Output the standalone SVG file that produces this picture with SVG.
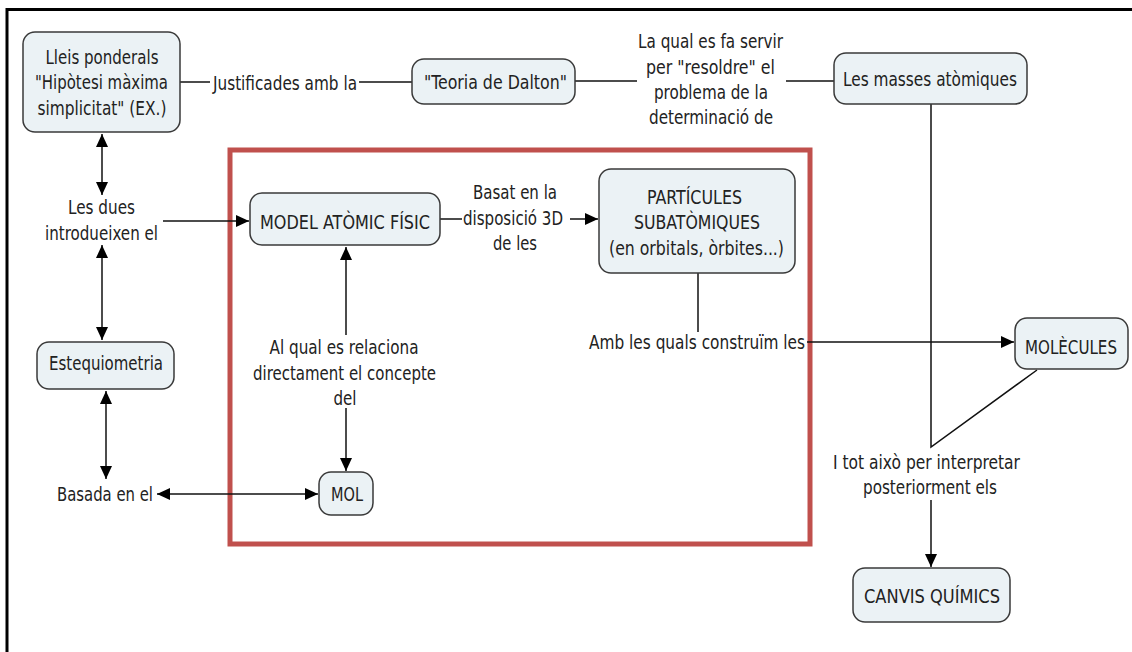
<svg xmlns="http://www.w3.org/2000/svg" width="1132" height="652" viewBox="0 0 1132 652">
  <defs>
    <marker id="arrow" markerUnits="userSpaceOnUse" markerWidth="14" markerHeight="13" refX="13" refY="6.5" orient="auto-start-reverse">
      <path d="M0,0.5 L13,6.5 L0,12.5 z" fill="#000"/>
    </marker>
    <style>
      .node rect { fill: #ebf2f5; stroke: #3a3a3a; stroke-width: 1.5; }
      text { font-family: "DejaVu Sans Condensed", "DejaVu Sans", "Liberation Sans", sans-serif; font-size: 19px; fill: #222; text-anchor: middle; }
      .link { fill: none; stroke: #111; stroke-width: 1.5; }
      .arrow { marker-end: url(#arrow); }
      .both { marker-start: url(#arrow); marker-end: url(#arrow); }
    </style>
  </defs>

  <rect width="1132" height="652" fill="#fff"/>

  <!-- page frame (top and left edges) -->
  <path d="M7,652 V9.5 H1132" fill="none" stroke="#000" stroke-width="3"/>

  <!-- highlighted region -->
  <rect x="230" y="150" width="580" height="394" fill="none" stroke="#c0504d" stroke-width="5"/>

  <!-- connectors and linking phrases -->
  <g id="connectors">
    <line class="link" x1="180" y1="82" x2="210" y2="82"/>
    <line class="link" x1="359" y1="82" x2="412" y2="82"/>
    <text x="285" y="89.5" textLength="144" lengthAdjust="spacingAndGlyphs">Justificades amb la</text>

    <line class="link" x1="575" y1="81" x2="637" y2="81"/>
    <line class="link" x1="786" y1="81" x2="834" y2="81"/>
    <text x="710.5" y="47.5" textLength="145" lengthAdjust="spacingAndGlyphs">La qual es fa servir</text>
    <text x="710.5" y="73.5" textLength="129" lengthAdjust="spacingAndGlyphs">per "resoldre" el</text>
    <text x="711" y="98.5" textLength="114" lengthAdjust="spacingAndGlyphs">problema de la</text>
    <text x="711" y="123.5" textLength="124" lengthAdjust="spacingAndGlyphs">determinació de</text>

    <line class="link both" x1="102" y1="134" x2="102" y2="195"/>
    <text x="101.5" y="213.5" textLength="67" lengthAdjust="spacingAndGlyphs">Les dues</text>
    <text x="101.5" y="239.5" textLength="113" lengthAdjust="spacingAndGlyphs">introdueixen el</text>
    <line class="link arrow" x1="163" y1="221" x2="249" y2="221"/>
    <line class="link both" x1="102" y1="245" x2="102" y2="340"/>

    <line class="link both" x1="106" y1="391" x2="106" y2="479"/>
    <text x="105" y="500.5" textLength="96" lengthAdjust="spacingAndGlyphs">Basada en el</text>
    <line class="link both" x1="157" y1="494" x2="318" y2="494"/>

    <line class="link arrow" x1="346" y1="335" x2="346" y2="247"/>
    <text x="344" y="353.5" textLength="149" lengthAdjust="spacingAndGlyphs">Al qual es relaciona</text>
    <text x="344.5" y="379.5" textLength="183" lengthAdjust="spacingAndGlyphs">directament el concepte</text>
    <text x="345" y="404.5" textLength="23" lengthAdjust="spacingAndGlyphs">del</text>
    <line class="link arrow" x1="346" y1="408" x2="346" y2="471"/>

    <line class="link" x1="440" y1="219" x2="462" y2="219"/>
    <text x="515" y="198.5" textLength="84" lengthAdjust="spacingAndGlyphs">Basat en la</text>
    <text x="513" y="224.5" textLength="100" lengthAdjust="spacingAndGlyphs">disposició 3D</text>
    <text x="515" y="249.5" textLength="44" lengthAdjust="spacingAndGlyphs">de les</text>
    <line class="link arrow" x1="570" y1="219" x2="598" y2="219"/>

    <line class="link" x1="698" y1="273" x2="698" y2="332"/>
    <text x="697" y="348.5" textLength="216" lengthAdjust="spacingAndGlyphs">Amb les quals construïm les</text>
    <line class="link arrow" x1="807" y1="342" x2="1014" y2="342"/>

    <polyline class="link" points="931,104 931,447 1037,370"/>
    <text x="926.5" y="468.5" textLength="187" lengthAdjust="spacingAndGlyphs">I tot això per interpretar</text>
    <text x="930" y="493.5" textLength="134" lengthAdjust="spacingAndGlyphs">posteriorment els</text>
    <line class="link arrow" x1="931" y1="500" x2="931" y2="567"/>
  </g>

  <!-- concepts -->
  <g id="lleis-ponderals" class="node">
    <rect x="23" y="32" width="157" height="100" rx="12"/>
    <text x="102" y="63.5" textLength="113" lengthAdjust="spacingAndGlyphs">Lleis ponderals</text>
    <text x="101.5" y="88.5" textLength="133" lengthAdjust="spacingAndGlyphs">"Hipòtesi màxima</text>
    <text x="102" y="114.5" textLength="129" lengthAdjust="spacingAndGlyphs">simplicitat" (EX.)</text>
  </g>

  <g id="teoria-dalton" class="node">
    <rect x="412" y="59" width="163" height="45" rx="12"/>
    <text x="495.5" y="88.5" textLength="143" lengthAdjust="spacingAndGlyphs">"Teoria de Dalton"</text>
  </g>

  <g id="masses-atomiques" class="node">
    <rect x="834" y="53" width="193" height="51" rx="12"/>
    <text x="930" y="85.5" textLength="174" lengthAdjust="spacingAndGlyphs">Les masses atòmiques</text>
  </g>

  <g id="model-atomic" class="node">
    <rect x="250" y="193" width="190" height="52" rx="12"/>
    <text x="345" y="228.5" textLength="170" lengthAdjust="spacingAndGlyphs">MODEL ATÒMIC FÍSIC</text>
  </g>

  <g id="particules" class="node">
    <rect x="599" y="169" width="196" height="104" rx="12"/>
    <text x="694.5" y="203.5" textLength="95" lengthAdjust="spacingAndGlyphs">PARTÍCULES</text>
    <text x="697" y="228.5" textLength="126" lengthAdjust="spacingAndGlyphs">SUBATÒMIQUES</text>
    <text x="696.5" y="254.5" textLength="175" lengthAdjust="spacingAndGlyphs">(en orbitals, òrbites...)</text>
  </g>

  <g id="molecules" class="node">
    <rect x="1015" y="318" width="113" height="51" rx="12"/>
    <text x="1071" y="353.5" textLength="92" lengthAdjust="spacingAndGlyphs">MOLÈCULES</text>
  </g>

  <g id="estequiometria" class="node">
    <rect x="37" y="342" width="137" height="47" rx="12"/>
    <text x="106" y="369.5" textLength="114" lengthAdjust="spacingAndGlyphs">Estequiometria</text>
  </g>

  <g id="mol" class="node">
    <rect x="319" y="472" width="54" height="43" rx="12"/>
    <text x="347" y="500.5" textLength="32" lengthAdjust="spacingAndGlyphs">MOL</text>
  </g>

  <g id="canvis-quimics" class="node">
    <rect x="853" y="568" width="157" height="54" rx="12"/>
    <text x="932" y="602.5" textLength="136" lengthAdjust="spacingAndGlyphs">CANVIS QUÍMICS</text>
  </g>
</svg>
